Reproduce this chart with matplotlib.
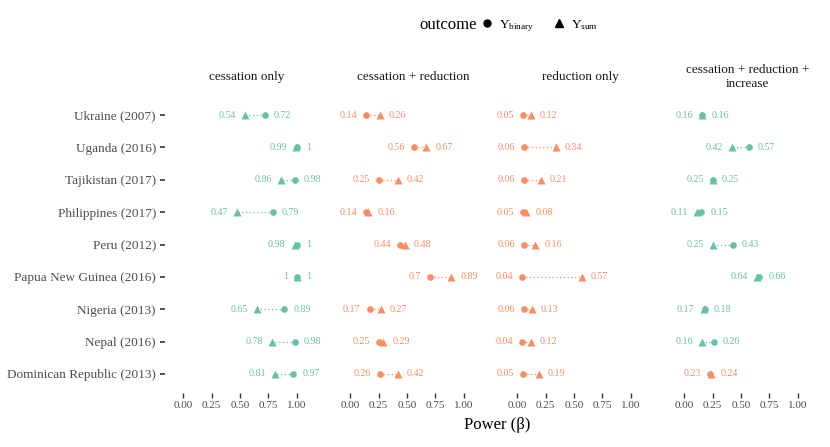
import numpy as np
import matplotlib
matplotlib.use("Agg")
import matplotlib.pyplot as plt
from matplotlib.lines import Line2D

plt.rcParams['font.family'] = ['Liberation Serif', 'DejaVu Serif']
plt.rcParams['mathtext.fontset'] = 'custom'
plt.rcParams['mathtext.rm'] = 'Liberation Serif'
plt.rcParams['mathtext.it'] = 'Liberation Serif:italic'

countries = ["Ukraine (2007)", "Uganda (2016)", "Tajikistan (2017)",
             "Philippines (2017)", "Peru (2012)", "Papua New Guinea (2016)",
             "Nigeria (2013)", "Nepal (2016)", "Dominican Republic (2013)"]
panels = ["cessation only", "cessation + reduction", "reduction only",
          "cessation + reduction +\nincrease"]

# power for Y_binary (circle) and Y_sum (triangle), rows follow countries
binary = [
    [0.72, 1, 0.98, 0.79, 1, 1, 0.89, 0.98, 0.97],
    [0.14, 0.56, 0.25, 0.14, 0.44, 0.7, 0.17, 0.25, 0.26],
    [0.05, 0.06, 0.06, 0.05, 0.06, 0.04, 0.06, 0.04, 0.05],
    [0.16, 0.57, 0.25, 0.15, 0.43, 0.66, 0.18, 0.26, 0.23],
]
ysum = [
    [0.54, 0.99, 0.86, 0.47, 0.98, 1, 0.65, 0.78, 0.81],
    [0.26, 0.67, 0.42, 0.16, 0.48, 0.89, 0.27, 0.29, 0.42],
    [0.12, 0.34, 0.21, 0.08, 0.16, 0.57, 0.13, 0.12, 0.19],
    [0.16, 0.42, 0.25, 0.11, 0.25, 0.64, 0.17, 0.16, 0.24],
]

green = "#66C2A5"
orange = "#FC8D62"

def fmt(v):
    return "1" if v == 1 else ("%.2f" % v).rstrip("0").rstrip(".")

fig = plt.figure(figsize=(8.3, 4.47), dpi=100)
W, H = 830, 447
left0, step, pw = 165, 167, 162.6
top_px, bot_px = 95.6, 393.4

for p in range(4):
    ax = fig.add_axes([(left0 + p * step) / W, 1 - bot_px / H,
                       pw / W, (bot_px - top_px) / H])
    y = np.arange(len(countries))
    for i in y:
        b, s = binary[p][i], ysum[p][i]
        c = green if b >= s else orange
        ax.plot([b, s], [i, i], ls=(0, (1, 2)), lw=0.9, color=c, zorder=1)
        ax.plot(b, i, 'o', ms=4.8, color=c, mec='none', zorder=2)
        ax.plot(s, i, '^', ms=5.4, color=c, mec='none', zorder=2)
        lo, hi = min(b, s), max(b, s)
        ax.annotate(fmt(lo), (lo, i), xytext=(-6.5, 0), textcoords='offset points',
                    ha='right', va='center', fontsize=7.2, color=c)
        ax.annotate(fmt(hi), (hi, i), xytext=(6.5, 0), textcoords='offset points',
                    ha='left', va='center', fontsize=7.2, color=c)
    ax.set_xlim(-0.16, 1.27)
    ax.set_ylim(len(countries) - 0.4, -0.6)
    ax.set_xticks([0, 0.25, 0.5, 0.75, 1.0])
    ax.set_xticklabels(["0.00", "0.25", "0.50", "0.75", "1.00"])
    ax.set_yticks(y)
    if p == 0:
        ax.set_yticklabels(countries, fontsize=9.5, color="#4D4D4D")
    else:
        ax.set_yticklabels([])
        ax.tick_params(axis='y', length=0)
    ax.tick_params(axis='x', labelsize=8, labelcolor="#4D4D4D", length=3.5,
                   width=1, color="#333333", pad=2)
    if p == 0:
        ax.tick_params(axis='y', length=3.5, width=1.2, color="#333333", pad=3)
    for sp in ax.spines.values():
        sp.set_visible(False)
    ax.text(0.5, 1 + (top_px - 77) / (bot_px - top_px), panels[p],
            transform=ax.transAxes, ha='center', va='center', fontsize=9.5,
            color="#1A1A1A", linespacing=1.25)

fig.text((left0 + 1.5 * step + pw / 2) / W, 1 - 425 / H, "Power (β)",
         ha='center', va='center', fontsize=12)

fig.text(419 / W, 1 - 25 / H, "outcome", ha='left', va='center', fontsize=12)
handles = [Line2D([], [], marker='o', ls='none', color='black', ms=5),
           Line2D([], [], marker='^', ls='none', color='black', ms=5.5)]
fig.legend(handles, [r"Y$_{\mathrm{binary}}$", r"Y$_{\mathrm{sum}}$"],
           loc='center left', bbox_to_anchor=(466 / W, 1 - 26 / H), ncol=2,
           frameon=False, fontsize=9.5, handletextpad=0.2, columnspacing=1.2,
           handlelength=1.4)

fig.savefig("out.png", dpi=100)
